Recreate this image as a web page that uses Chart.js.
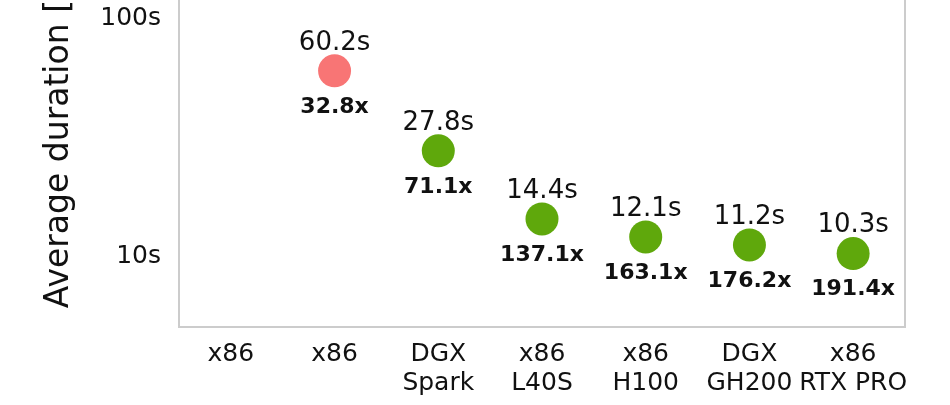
<!DOCTYPE html>
<html lang="en">
<head>
  <meta charset="UTF-8" />
  <title>Average duration</title>
  <script src="https://cdn.jsdelivr.net/npm/chart.js"></script>
  <style>
    html, body { margin: 0; padding: 0; background: #fff; }
    #wrap { width: 950px; height: 405px; position: relative; }
  </style>
</head>
<body>
<div id="wrap"><canvas id="durationChart"></canvas></div>

<script>
  // values (first x86 point lies above the visible area)
  const categories = [['x86'], ['x86'], ['DGX', 'Spark'], ['x86', 'L40S'], ['x86', 'H100'], ['DGX', 'GH200'], ['x86', 'RTX PRO']];
  const durations = [null, 60.2, 27.8, 14.4, 12.1, 11.2, 10.3];
  const speedups = [null, 32.8, 71.1, 137.1, 163.1, 176.2, 191.4];
  const platforms = ['cpu', 'cpu', 'gpu', 'gpu', 'gpu', 'gpu', 'gpu'];
  const yTicks = [10, 100];

  const colors = { cpu: '#f87575', gpu: '#5fa80c' };
  const FONT = "'DejaVu Sans', sans-serif";

  // duration above, speedup below each marker
  const pointLabels = {
    id: 'pointLabels',
    afterDatasetsDraw(chart) {
      const ctx = chart.ctx;
      const meta = chart.getDatasetMeta(0);
      ctx.save();
      ctx.fillStyle = '#111';
      ctx.textAlign = 'center';
      ctx.textBaseline = 'middle';
      meta.data.forEach((pt, i) => {
        if (durations[i] == null) return;
        ctx.font = '26px ' + FONT;
        ctx.fillText(durations[i].toFixed(1) + 's', pt.x, pt.y - 28);
        ctx.font = 'bold 22px ' + FONT;
        ctx.fillText(speedups[i].toFixed(1) + 'x', pt.x, pt.y + 36);
      });
      ctx.restore();
    }
  };

  // right edge of the frame
  const frameRight = {
    id: 'frameRight',
    beforeDatasetsDraw(chart) {
      const { ctx, chartArea } = chart;
      ctx.save();
      ctx.strokeStyle = '#cccccc';
      ctx.lineWidth = 2;
      ctx.beginPath();
      ctx.moveTo(chartArea.right, chartArea.top);
      ctx.lineTo(chartArea.right, chartArea.bottom + 1);
      ctx.stroke();
      ctx.restore();
    }
  };

  new Chart(document.getElementById('durationChart'), {
    type: 'line',
    data: {
      labels: categories,
      datasets: [{
        data: durations,
        showLine: false,
        clip: false,
        pointRadius: 16.5,
        pointHoverRadius: 16.5,
        pointBorderWidth: 0,
        pointBackgroundColor: ctx => colors[platforms[ctx.dataIndex]],
        pointBorderColor: ctx => colors[platforms[ctx.dataIndex]]
      }]
    },
    options: {
      responsive: true,
      maintainAspectRatio: false,
      animation: false,
      layout: { autoPadding: false, padding: { top: 0, right: 45, bottom: 0, left: 0 } },
      plugins: {
        legend: { display: false },
        tooltip: { enabled: false }
      },
      scales: {
        x: {
          offset: true,
          grid: { display: false, drawTicks: false },
          border: { display: true, color: '#cccccc', width: 2 },
          ticks: {
            padding: 13,
            color: '#111',
            maxRotation: 0,
            autoSkip: false,
            font: { family: FONT, size: 25, lineHeight: 1.15 }
          },
          afterFit: scale => {
            scale.height = 78;
            scale.paddingLeft = 0;
            scale.paddingRight = 0;
          }
        },
        y: {
          type: 'logarithmic',
          min: 5.07,
          max: 119.3,
          grid: { display: false, drawTicks: false },
          border: { display: true, color: '#cccccc', width: 2 },
          ticks: {
            padding: 18,
            color: '#111',
            font: { family: FONT, size: 25 },
            callback: v => v + 's'
          },
          afterBuildTicks: scale => { scale.ticks = yTicks.map(v => ({ value: v })); },
          title: {
            display: true,
            text: 'Average duration [',
            align: 'end',
            color: '#111',
            padding: { top: 40, bottom: 0 },
            font: { family: FONT, size: 33 }
          },
          afterFit: scale => {
            scale.width = 179;
            scale.paddingTop = 0;
            scale.paddingBottom = 0;
          }
        }
      }
    },
    plugins: [frameRight, pointLabels]
  });
</script>
</body>
</html>
